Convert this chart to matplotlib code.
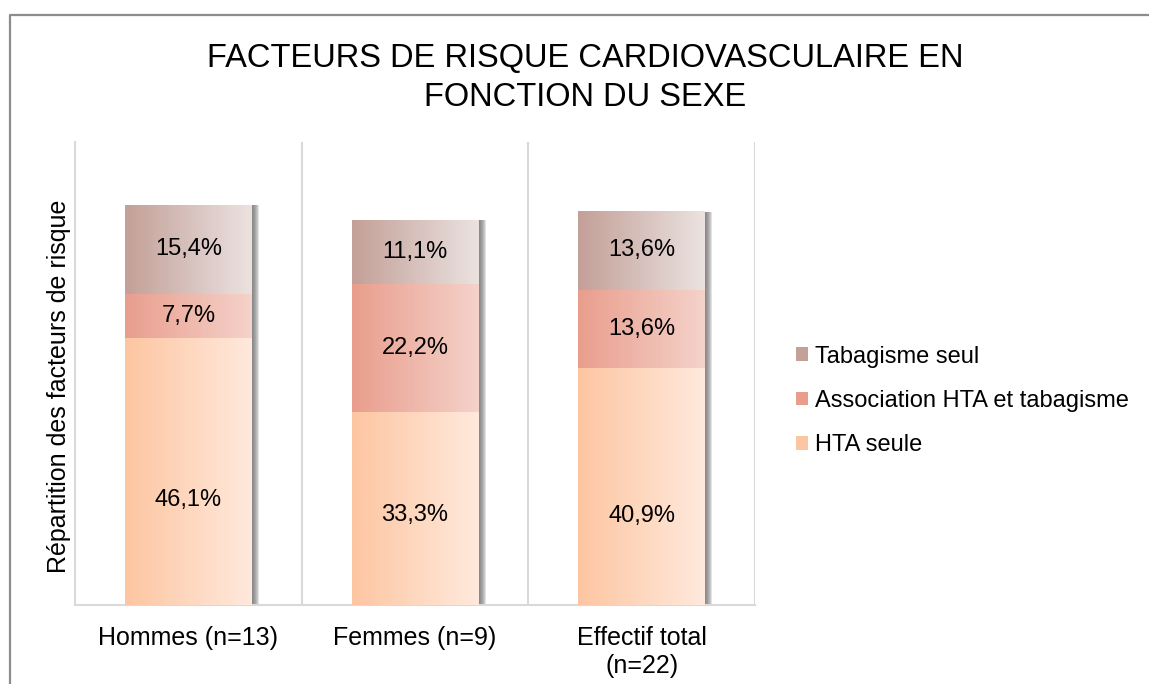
import numpy as np
import matplotlib
matplotlib.use("Agg")
import matplotlib.pyplot as plt
from matplotlib import patheffects
from matplotlib.lines import Line2D
from matplotlib.patches import Patch

# data (percent of each group)
categories = ["Hommes (n=13)", "Femmes (n=9)", "Effectif total\n(n=22)"]
hta_seule = [46.1, 33.3, 40.9]
hta_tabac = [7.7, 22.2, 13.6]
tabac_seul = [15.4, 11.1, 13.6]
series_names = ["HTA seule", "Association HTA et tabagisme", "Tabagisme seul"]
# the bottom labels were dragged down by hand in the original chart
hta_label_pos = [18.2, 15.6, 15.3]

# left -> right gradient colours for each series
grad_colors = [("#FDC6A2", "#FFE9DC"),
               ("#E99E8D", "#F5D2CA"),
               ("#C3A098", "#EBE2E0")]

plt.rcParams["font.family"] = ["Liberation Sans", "DejaVu Sans"]

fig = plt.figure(figsize=(11.49, 6.84), dpi=100)
ax = fig.add_axes([75 / 1149, 79 / 684, 680 / 1149, 463 / 684])

x = np.arange(len(categories))
width = 0.56
series = [hta_seule, hta_tabac, tabac_seul]

shadow = [patheffects.SimplePatchShadow(offset=(0.75 * k, -0.6), shadow_rgbFace="#6E6E6E",
                                        alpha=0.2) for k in range(1, 8)]
shadow.append(patheffects.Normal())


def gradient(c0, c1, n=64):
    a = np.array(matplotlib.colors.to_rgb(c0))
    b = np.array(matplotlib.colors.to_rgb(c1))
    t = np.linspace(0, 1, n)[:, None]
    return (a + (b - a) * t)[None, :, :]


bottom = np.zeros(len(categories))
for vals, name, (c0, c1) in zip(series, series_names, grad_colors):
    bars = ax.bar(x, vals, width, bottom=bottom, color=c0, label=name, zorder=2, linewidth=0)
    for b in bars:
        b.set_path_effects(shadow)
        x0, y0 = b.get_x(), b.get_y()
        im = ax.imshow(gradient(c0, c1), extent=[x0, x0 + b.get_width(), y0, y0 + b.get_height()],
                       aspect="auto", interpolation="bilinear", zorder=3)
        im.set_clip_path(b)
    bottom += np.array(vals)

# data labels
fmt = lambda v: f"{v:.1f}".replace(".", ",") + "%"
for i in range(len(categories)):
    ax.text(x[i], hta_label_pos[i], fmt(hta_seule[i]), ha="center", va="center", fontsize=17, zorder=5)
    ax.text(x[i], hta_seule[i] + hta_tabac[i] / 2, fmt(hta_tabac[i]), ha="center", va="center",
            fontsize=17, zorder=5)
    ax.text(x[i], hta_seule[i] + hta_tabac[i] + tabac_seul[i] / 2, fmt(tabac_seul[i]), ha="center",
            va="center", fontsize=17, zorder=5)

ax.set_xlim(-0.5, 2.5)
ax.set_ylim(0, 80)
ax.set_yticks([])
ax.set_xticks(x)
ax.set_xticklabels(categories, fontsize=18, linespacing=1.2)
ax.tick_params(axis="x", length=0, pad=15)
for s in ["top", "right"]:
    ax.spines[s].set_visible(False)
for s in ["left", "bottom"]:
    ax.spines[s].set_color("#D9D9D9")
    ax.spines[s].set_linewidth(1.5)
for xv in [0.5, 1.5, 2.5]:
    ax.axvline(xv, color="#D9D9D9", lw=1.5, zorder=1)

ax.set_ylabel("Répartition des facteurs de risque", fontsize=18)
ax.yaxis.set_label_coords(-0.006, 0.472)

# legend, top entry = last series
handles = [Patch(facecolor=grad_colors[i][0], edgecolor="none") for i in (2, 1, 0)]
labels = [series_names[i] for i in (2, 1, 0)]
fig.legend(handles, labels, loc="center left", bbox_to_anchor=(796 / 1149, 1 - 401 / 684),
           frameon=False, fontsize=17, handlelength=0.5, handleheight=0.5,
           handletextpad=0.3, labelspacing=0.95, borderpad=0, borderaxespad=0)

fig.text(585 / 1149, 1 - 78 / 684, "FACTEURS DE RISQUE CARDIOVASCULAIRE EN\nFONCTION DU SEXE",
         ha="center", va="center", fontsize=23.5, linespacing=1.3)

# outer chart border (right and bottom edges fall outside the picture)
fig.add_artist(Line2D([10 / 1149, 10 / 1149, 1.0], [0.0, 1 - 15 / 684, 1 - 15 / 684],
                      transform=fig.transFigure, color="#8C8C8C", lw=1.6))

fig.savefig("out.png", dpi=100)
